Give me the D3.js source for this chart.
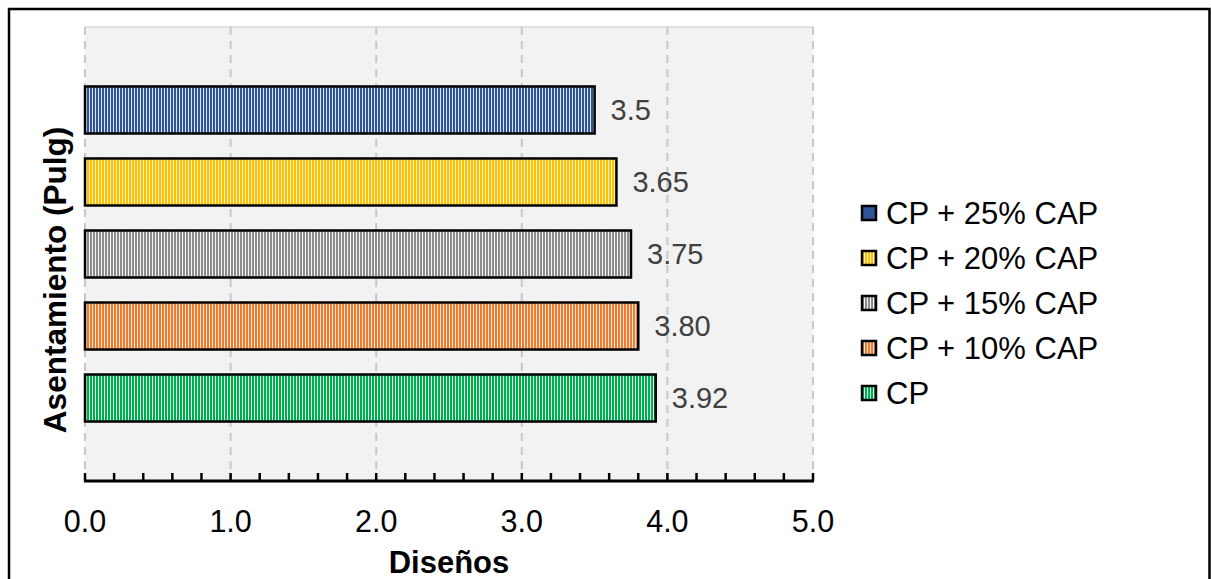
<!DOCTYPE html>
<html>
<head>
<meta charset="utf-8">
<script src="https://cdn.jsdelivr.net/npm/d3@7"></script>
<style>
  html, body { margin: 0; padding: 0; background: #fff; }
  svg { display: block; font-family: "Liberation Sans", Arial, sans-serif; }
</style>
</head>
<body>
<svg id="chart" width="1211" height="579"></svg>
<script>
// Series (top to bottom as drawn) and their slump values in inches
const series = ["CP + 25% CAP", "CP + 20% CAP", "CP + 15% CAP", "CP + 10% CAP", "CP"];
const values = [3.5, 3.65, 3.75, 3.80, 3.92];
const valueLabels = ["3.5", "3.65", "3.75", "3.80", "3.92"];
const fills = ["#2f5597", "#ffc000", "#8c8c8c", "#ed7d31", "#00b050"];
const stripes = ["#dbe4f5", "#fff4cc", "#f2f2f2", "#fde5d6", "#d9f5e3"];
const xTicks = [0, 1, 2, 3, 4, 5];
const xTickLabels = ["0.0", "1.0", "2.0", "3.0", "4.0", "5.0"];

const svg = d3.select("#chart");

// Outer chart frame (bottom edge falls outside the canvas)
svg.append("rect")
  .attr("x", 9).attr("y", 9).attr("width", 1200.5).attr("height", 600)
  .attr("fill", "#fff").attr("stroke", "#000").attr("stroke-width", 2.5);

const plot = { left: 85, right: 813, top: 27, bottom: 481 };

const x = d3.scaleLinear().domain([0, 5]).range([plot.left, plot.right]);
const y = d3.scaleBand().domain(series)
  .range([plot.top, plot.bottom])
  .paddingInner(0.347).paddingOuter(0.826);

// Vertical stripe patterns for the bars and legend keys
const defs = svg.append("defs");
series.forEach((s, i) => {
  const p = defs.append("pattern")
    .attr("id", "pat" + i).attr("patternUnits", "userSpaceOnUse")
    .attr("width", 3).attr("height", 10);
  p.append("rect").attr("width", 3).attr("height", 10).attr("fill", stripes[i]);
  p.append("rect").attr("width", 2).attr("height", 10).attr("fill", fills[i]);
});

// Plot area background
svg.append("rect")
  .attr("x", plot.left).attr("y", plot.top)
  .attr("width", plot.right - plot.left).attr("height", plot.bottom - plot.top)
  .attr("fill", "#f2f2f2");
svg.append("line")
  .attr("x1", plot.left).attr("x2", plot.right)
  .attr("y1", plot.top).attr("y2", plot.top)
  .attr("stroke", "#d9d9d9").attr("stroke-width", 1.5);

// Dashed vertical gridlines
svg.append("g").selectAll("line").data(xTicks).join("line")
  .attr("x1", d => x(d)).attr("x2", d => x(d))
  .attr("y1", plot.top).attr("y2", plot.bottom)
  .attr("stroke", "#c8c8c8").attr("stroke-width", 2)
  .attr("stroke-dasharray", "8,6");

// Bars
svg.append("g").selectAll("rect").data(series).join("rect")
  .attr("x", x(0))
  .attr("y", d => y(d))
  .attr("width", (d, i) => x(values[i]) - x(0))
  .attr("height", y.bandwidth())
  .attr("fill", (d, i) => `url(#pat${i})`)
  .attr("stroke", "#000").attr("stroke-width", 2.5);

// Value labels
svg.append("g").selectAll("text").data(series).join("text")
  .attr("x", (d, i) => x(values[i]) + 16)
  .attr("y", d => y(d) + y.bandwidth() / 2)
  .attr("dy", "0.35em")
  .attr("font-size", 29)
  .attr("fill", "#404040")
  .text((d, i) => valueLabels[i]);

// X axis with inward major and minor ticks
const minor = d3.range(0, 5.0001, 0.2);
svg.append("g").selectAll("line").data(minor).join("line")
  .attr("x1", d => x(d)).attr("x2", d => x(d))
  .attr("y1", plot.bottom).attr("y2", plot.bottom - 8)
  .attr("stroke", "#000").attr("stroke-width", 2.5);
svg.append("line")
  .attr("x1", plot.left - 1).attr("x2", plot.right + 1)
  .attr("y1", plot.bottom).attr("y2", plot.bottom)
  .attr("stroke", "#000").attr("stroke-width", 3);

svg.append("g").selectAll("text").data(xTicks).join("text")
  .attr("x", d => x(d))
  .attr("y", 521)
  .attr("dy", "0.35em")
  .attr("text-anchor", "middle")
  .attr("font-size", 30.5)
  .attr("fill", "#000")
  .text((d, i) => xTickLabels[i]);

// Axis titles
svg.append("text")
  .attr("x", (plot.left + plot.right) / 2).attr("y", 562)
  .attr("dy", "0.35em").attr("text-anchor", "middle")
  .attr("font-size", 31).attr("font-weight", "bold")
  .text("Diseños");

svg.append("text")
  .attr("transform", "translate(55,280) rotate(-90)")
  .attr("dy", "0.35em").attr("text-anchor", "middle")
  .attr("font-size", 31.5).attr("font-weight", "bold")
  .text("Asentamiento (Pulg)");

// Legend
const legend = svg.append("g");
const legendTop = 213, legendStep = 45;
series.forEach((s, i) => {
  const g = legend.append("g").attr("transform", `translate(862,${legendTop + i * legendStep})`);
  g.append("rect")
    .attr("x", 0).attr("y", -7).attr("width", 14).attr("height", 14)
    .attr("fill", i === 0 ? fills[0] : `url(#pat${i})`)
    .attr("stroke", "#000").attr("stroke-width", 2.5);
  g.append("text")
    .attr("x", 24).attr("y", 0).attr("dy", "0.35em")
    .attr("font-size", 31).attr("fill", "#000")
    .text(s);
});
</script>
</body>
</html>
